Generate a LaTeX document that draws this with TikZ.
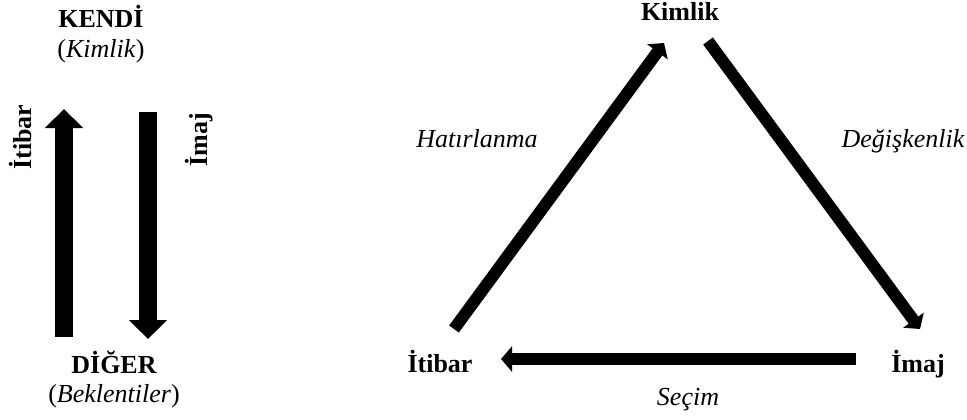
\documentclass[tikz,border=0pt]{standalone}
\usepackage{fontspec}
\setmainfont{Liberation Serif}
\usepackage{tikz}
\usetikzlibrary{arrows.meta, positioning, calc}

\begin{document}
\begin{tikzpicture}[x=0.75pt, y=-0.75pt,
    lbl/.style={inner sep=0pt, font=\fontsize{19.5}{23}\selectfont},
    boldlbl/.style={lbl, font=\fontsize{19.5}{23}\selectfont\bfseries},
    itlbl/.style={lbl, font=\fontsize{19.5}{23}\selectfont\itshape},
    wide arrow/.style={line width=13.5pt, -{Triangle[length=14.25pt, width=27.75pt]}},
    thin arrow/.style={line width=9pt, -{Triangle[length=8.25pt, width=18.75pt]}}]
  \useasboundingbox (0,0) rectangle (967,419);

  % left: self and other
  \node[boldlbl, anchor=base] (kendi) at (101,27) {KENDİ};
  \node[lbl, anchor=base] (kendisub) at (101,57) {(\textit{Kimlik})};
  \node[boldlbl, anchor=base] (diger) at (114,373) {DİĞER};
  \node[lbl, anchor=base] (digersub) at (114,402) {(\textit{Beklentiler})};
  \node[boldlbl, rotate=90] (itibarup) at (20,137) {İtibar};
  \node[boldlbl, rotate=90] (imajdown) at (199,140) {İmaj};

  \coordinate (upstart) at (64,337);
  \coordinate (upend) at (64,109);
  \coordinate (downstart) at (148,112);
  \coordinate (downend) at (148,339);
  \draw[wide arrow] (upstart) -- (upend);
  \draw[wide arrow] (downstart) -- (downend);

  % right: triangle
  \node[boldlbl, anchor=base] (kimlik) at (680,20) {Kimlik};
  \node[boldlbl, anchor=base] (itibar) at (440,372) {İtibar};
  \node[boldlbl, anchor=base] (imaj) at (918,372) {İmaj};
  \node[itlbl, anchor=base] (hatir) at (477,147) {Hatırlanma};
  \node[itlbl, anchor=base] (degis) at (903,147) {Değişkenlik};
  \node[itlbl, anchor=base] (secim) at (688,405) {Seçim};

  \coordinate (lstart) at (454,329);
  \coordinate (lend) at (664,43);
  \coordinate (rstart) at (708,41);
  \coordinate (rend) at (920,329);
  \coordinate (bstart) at (856,359);
  \coordinate (bend) at (501,359);
  \draw[thin arrow] (lstart) -- (lend);
  \draw[thin arrow] (rstart) -- (rend);
  \draw[thin arrow] (bstart) -- (bend);
\end{tikzpicture}
\end{document}
